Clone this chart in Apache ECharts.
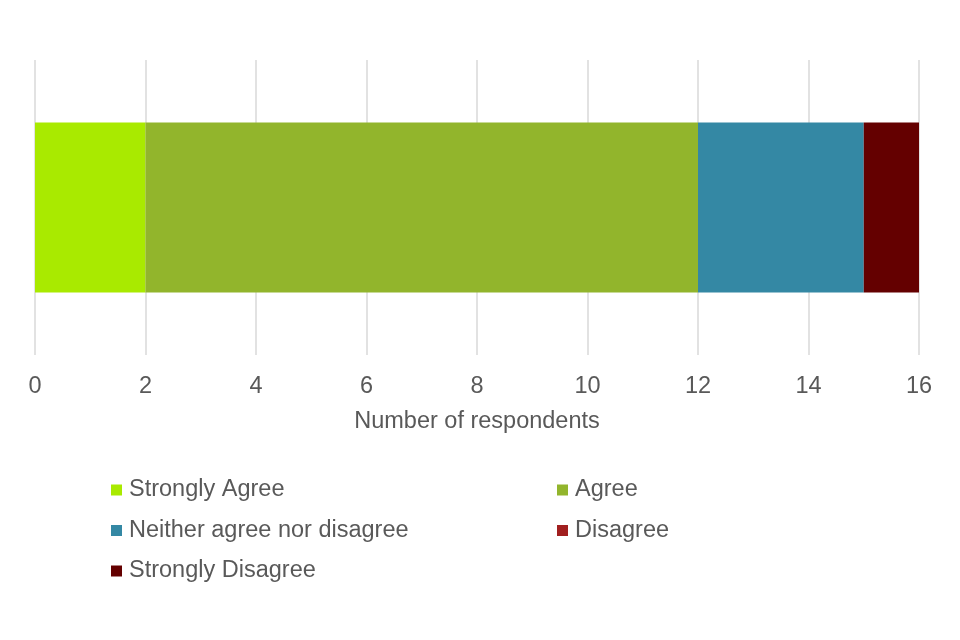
<!DOCTYPE html>
<html><head><meta charset="utf-8">
<script src="https://cdn.jsdelivr.net/npm/echarts@6/dist/echarts.min.js"></script>
<style>html,body{margin:0;padding:0;background:#fff}#c{width:960px;height:640px}</style>
</head><body><div id="c"></div>
<script>
const categories = ['Responses'];
const seriesNames = ['Strongly Agree', 'Agree', 'Neither agree nor disagree', 'Disagree', 'Strongly Disagree'];
const seriesValues = [[2], [10], [3], [0], [1]];
const seriesColors = ['#A9EA00', '#92B52C', '#3488A4', '#A11F1F', '#640000'];
const xTicks = {min: 0, max: 16, interval: 2};

const chart = echarts.init(document.getElementById('c'));
const font = 'Arial, "Liberation Sans", sans-serif';
const legendText = {fontSize: 23.5, color: '#595959', fontFamily: font, lineHeight: 24, padding: [0, 0, 0, 2]};
chart.setOption({
  animation: false,
  grid: {left: 35, right: 41, top: 60, bottom: 285, containLabel: false},
  xAxis: {
    type: 'value', min: xTicks.min, max: xTicks.max, interval: xTicks.interval,
    name: 'Number of respondents', nameLocation: 'middle', nameGap: 55,
    nameTextStyle: {fontSize: 23.5, color: '#595959', fontFamily: font},
    axisLabel: {fontSize: 23.5, color: '#595959', fontFamily: font, margin: 20},
    axisLine: {show: false}, axisTick: {show: false},
    splitLine: {show: true, lineStyle: {color: '#D9D9D9', width: 1.5}}
  },
  yAxis: {type: 'category', data: categories, show: false},
  legend: [
    {orient: 'vertical', left: 106, top: 473, itemWidth: 11, itemHeight: 11, itemGap: 16.5,
     icon: 'rect', textStyle: legendText, data: [seriesNames[0], seriesNames[2], seriesNames[4]]},
    {orient: 'vertical', left: 552, top: 473, itemWidth: 11, itemHeight: 11, itemGap: 16.5,
     icon: 'rect', textStyle: legendText, data: [seriesNames[1], seriesNames[3]]}
  ],
  series: seriesNames.map((n, i) => ({
    name: n, type: 'bar', stack: 'total', data: seriesValues[i], barWidth: 170,
    itemStyle: {color: seriesColors[i]}
  }))
});
</script></body></html>
